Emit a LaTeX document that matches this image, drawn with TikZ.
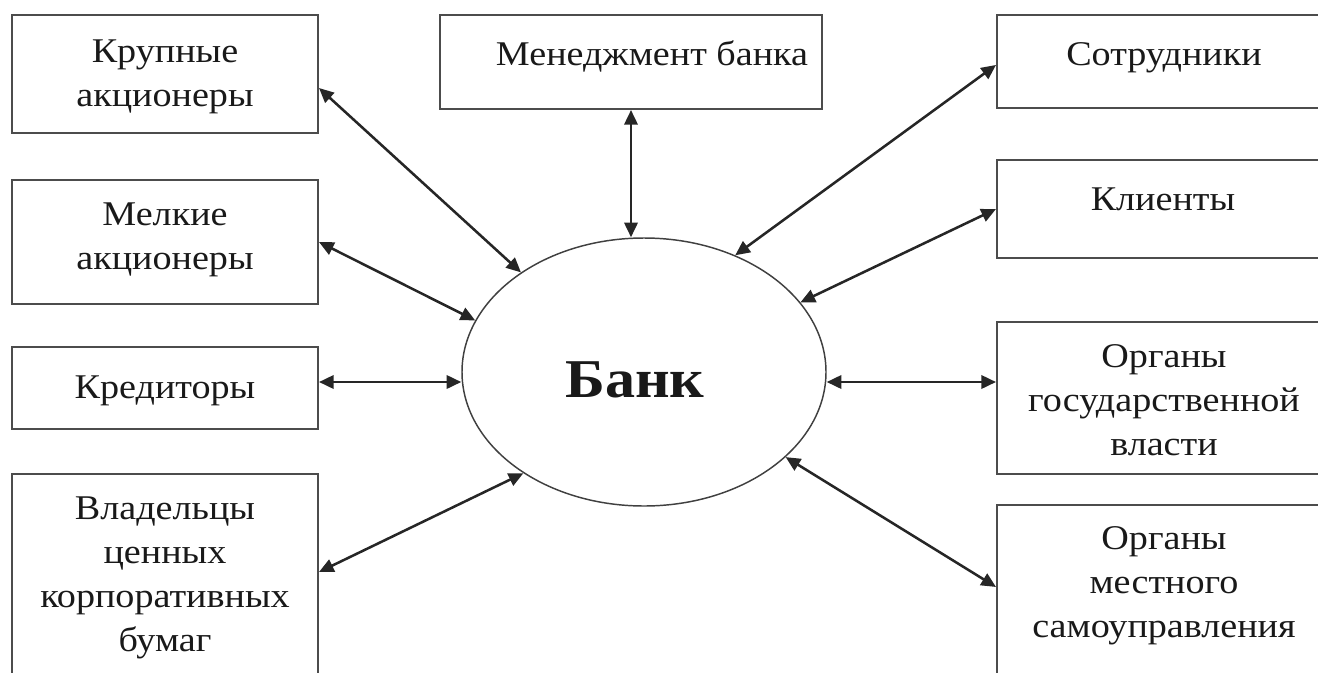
\documentclass[tikz,border=0pt]{standalone}
\usepackage{fontspec}
\setmainfont{Liberation Serif}[FakeStretch=1.1]
\usetikzlibrary{arrows.meta,shapes.geometric,calc}
\begin{document}
\begin{tikzpicture}[x=0.75pt,y=-0.75pt,
  box/.style={draw=black!70, line width=1.5pt, inner sep=0pt, rectangle},
  txt/.style={font=\fontsize{26}{33}\selectfont, align=center, inner sep=0pt, text=black!90},
  link/.style={line width=1.9pt, draw=black!85, {Triangle[length=11pt,width=10pt]}-{Triangle[length=11pt,width=10pt]}}]
\useasboundingbox (0,0) rectangle (1318,672);
\clip (0,0) rectangle (1318,672);
% boxes
\node[box, minimum width=229.5pt, minimum height=88.5pt] (krup) at (165,74) {};
\node[box, minimum width=229.5pt, minimum height=93pt] (melk) at (165,242) {};
\node[box, minimum width=229.5pt, minimum height=61.5pt] (kred) at (165,388) {};
\node[box, minimum width=229.5pt, minimum height=162pt] (vlad) at (165,582) {};
\node[box, minimum width=286.5pt, minimum height=70.5pt] (men) at (631,62) {};
\node[box, minimum width=250.5pt, minimum height=69.75pt] (sotr) at (1164,61.5) {};
\node[box, minimum width=250.5pt, minimum height=73.5pt] (klient) at (1164,209) {};
\node[box, minimum width=250.5pt, minimum height=114pt] (gos) at (1164,398) {};
\node[box, minimum width=250.5pt, minimum height=138.75pt] (mest) at (1164,597.5) {};
\node[draw=black!75, line width=1.1pt, ellipse, inner sep=0pt, minimum width=273pt, minimum height=201pt] (bank) at (644,372) {};
% texts
\node[txt] (krupT) at (165,77) {Крупные\\акционеры};
\node[txt] (melkT) at (165,240) {Мелкие\\акционеры};
\node[txt, anchor=base] (kredT) at (165,398) {Кредиторы};
\node[txt] (vladT) at (165,578) {Владельцы\\ценных\\корпоративных\\бумаг};
\node[txt, anchor=base] (menT) at (652,65) {Менеджмент банка};
\node[txt, anchor=base] (sotrT) at (1164,65) {Сотрудники};
\node[txt, anchor=base] (klientT) at (1163,210) {Клиенты};
\node[txt] (gosT) at (1164,400) {Органы\\государственной\\власти};
\node[txt] (mestT) at (1164,586) {Органы\\местного\\самоуправления};
\node[inner sep=0pt, anchor=base, font=\fontsize{41}{48}\selectfont\bfseries, text=black!90] (bankT) at (635,397) {Банк};
% connectors
\draw[link] ([yshift=-10.5pt]krup.east) -- (bank.141);
\draw[link] (melk.east) -- (bank.163);
\draw[link] ([yshift=4.5pt]kred.east) -- ([yshift=4.5pt]kred.east -| bank.west);
\draw[link] ([yshift=7.5pt]vlad.east) -- (bank.220);
\draw[link] (men.south) -- (men.south |- bank.north);
\draw[link] ([yshift=-2.6pt]sotr.west) -- (bank.52);
\draw[link] (klient.west) -- (bank.24);
\draw[link] ([yshift=12pt]gos.west) -- ([yshift=12pt]gos.west -| bank.east);
\draw[link] ([yshift=7.9pt]mest.west) -- (bank.329);
\end{tikzpicture}
\end{document}
